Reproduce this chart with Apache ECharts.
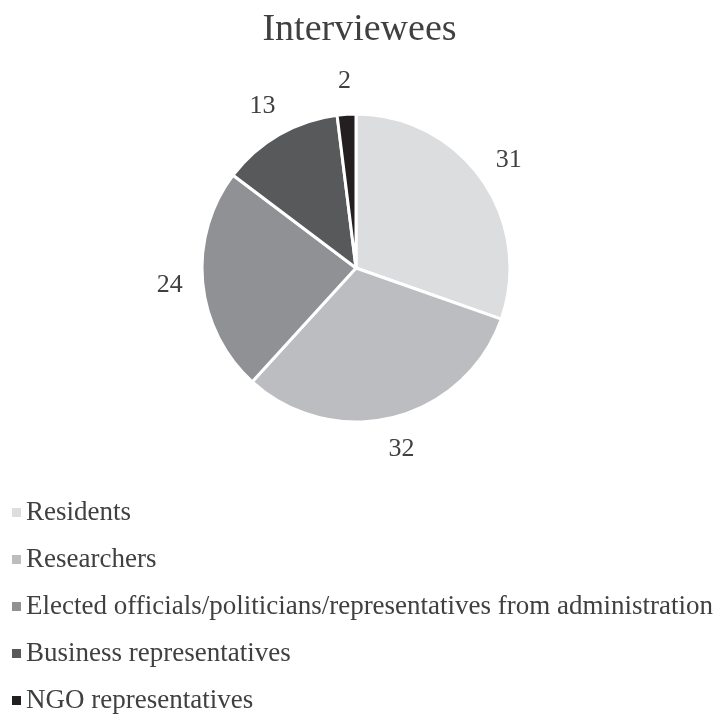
<!DOCTYPE html>
<html>
<head>
<meta charset="utf-8">
<script src="https://cdn.jsdelivr.net/npm/echarts@6/dist/echarts.min.js"></script>
<style>
  html, body { margin: 0; padding: 0; background: #fff; }
  #chart { width: 719px; height: 714px; }
</style>
</head>
<body>
<div id="chart"></div>
<script>
// data
var categories = [
    'Residents',
    'Researchers',
    'Elected officials/politicians/representatives from administration',
    'Business representatives',
    'NGO representatives'
];
var counts = [31, 32, 24, 13, 2];
var sliceColors = ['#dcdddf', '#bcbdc0', '#909195', '#58595b', '#231f20'];

var font = '"Liberation Serif", "Times New Roman", serif';
var myChart = echarts.init(document.getElementById('chart'));

var pieData = categories.map(function (name, i) {
    return { name: name, value: counts[i], itemStyle: { color: sliceColors[i] } };
});

// invisible ring just outside the pie, only used to place the value labels
var labelData = categories.map(function (name, i) {
    return { name: name, value: counts[i] };
});

var option = {
    animation: false,
    title: {
        text: 'Interviewees',
        left: 'center',
        top: 6,
        textStyle: { fontFamily: font, fontSize: 38, fontWeight: 'normal', color: '#404040' }
    },
    legend: {
        orient: 'vertical',
        left: 7,
        top: 494,
        height: 220,
        icon: 'rect',
        itemWidth: 9,
        itemHeight: 9,
        itemGap: 20,
        itemStyle: { borderWidth: 0 },
        data: categories,
        textStyle: { fontFamily: font, fontSize: 27, color: '#404040' }
    },
    series: [{
        type: 'pie',
        center: [356, 268],
        radius: 154,
        startAngle: 90,
        clockwise: true,
        data: pieData,
        itemStyle: { borderColor: '#fff', borderWidth: 3 },
        label: { show: false },
        labelLine: { show: false },
        emphasis: { disabled: true }
    }, {
        type: 'pie',
        center: [356, 268],
        radius: [154, 214],
        startAngle: 90,
        clockwise: true,
        silent: true,
        data: labelData,
        itemStyle: { color: 'rgba(0,0,0,0)' },
        label: {
            show: true,
            position: 'inside',
            formatter: '{c}',
            fontFamily: font,
            fontSize: 26,
            color: '#404040'
        },
        labelLine: { show: false },
        emphasis: { disabled: true }
    }]
};
myChart.setOption(option);
</script>
</body>
</html>
